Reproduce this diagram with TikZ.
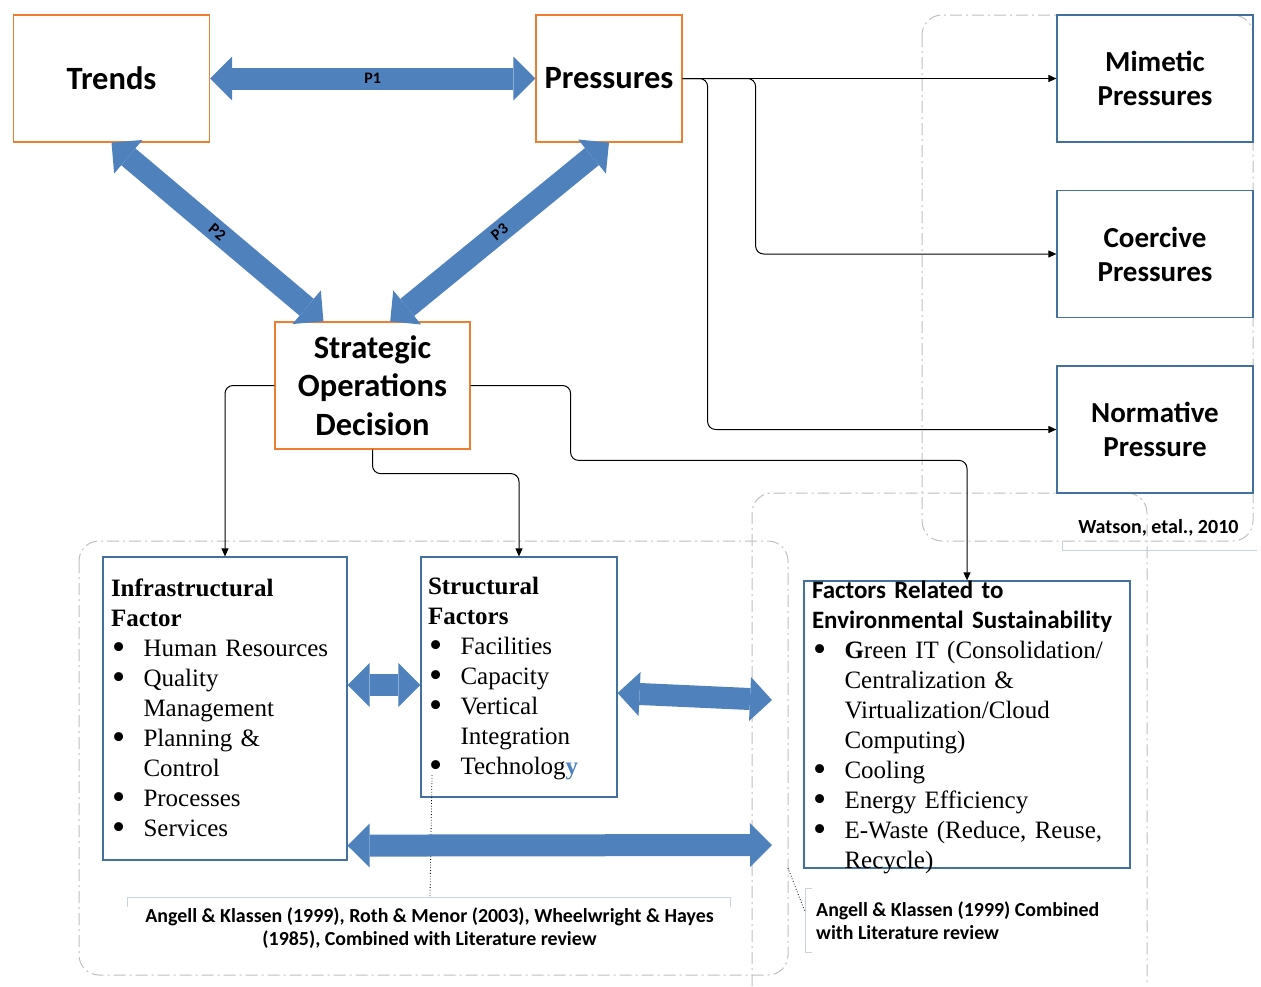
\documentclass[tikz,border=0pt]{standalone}
\usepackage{fontspec}
\setmainfont{Liberation Serif}
\newfontfamily\calibri{Carlito}
\usetikzlibrary{arrows.meta,calc}
\definecolor{orangeline}{HTML}{ED7D31}
\definecolor{blueline}{HTML}{41719C}
\definecolor{arrowblue}{HTML}{4F81BD}
\definecolor{shadowblue}{HTML}{D3E0F0}
\definecolor{groupgray}{HTML}{BFBFBF}
\definecolor{calloutgray}{HTML}{C9D3DF}
\newcommand\bul{\makebox[32.5pt][l]{\hspace{1pt}\smash{\raisebox{-3.5pt}{\scalebox{1.5}{\textbullet}}}}}
\newcommand\ind{\hspace*{32.5pt}}
\begin{document}
\begin{tikzpicture}[x=1pt,y=-1pt,
  obox/.style={draw=orangeline,line width=1.2pt,minimum width=196pt,minimum height=127pt,inner sep=0pt,align=center,font=\calibri\bfseries\fontsize{32.5}{38.5}\selectfont},
  bbox/.style={draw=blueline,line width=1.2pt,minimum width=196pt,minimum height=127pt,inner sep=0pt,align=center,font=\calibri\bfseries\fontsize{29}{34}\selectfont},
  lbox/.style={draw=blueline,line width=1.2pt,inner xsep=8pt,inner ysep=0pt,align=left,font=\fontsize{25}{30}\selectfont},
  fat/.style={arrowblue,line width=22pt,{Triangle[width=44pt,length=22pt,line width=0pt]}-{Triangle[width=44pt,length=22pt,line width=0pt]},
    preaction={shadowblue,transform canvas={shift={(1.5pt,-3pt)}}}},
  conn/.style={-{Triangle[length=8pt,width=7pt]},line width=1pt,rounded corners=8pt},
  group/.style={draw=groupgray,line width=1pt,dash pattern=on 12pt off 4pt on 2pt off 4pt,rounded corners=20pt},
  plab/.style={font=\calibri\bfseries\fontsize{16}{18}\selectfont,text=black},
  cite/.style={font=\calibri\bfseries\fontsize{19.9}{23}\selectfont,align=center}]

\useasboundingbox (0,0) rectangle (1261,986);

\draw[group] (922,15) rectangle (1253,541);
\draw[group] (79,541) rectangle (788,975);
\draw[group] (752,986) |- (1147,493) -- (1147,986);

\node[obox] (trends) at (111.5,78.5) {Trends};
\node[obox,minimum width=146pt] (press) at (609,78.5) {Pressures};
\node[obox,minimum width=195pt] (strat) at (372.5,385.5) {Strategic\\Operations\\Decision};

\node[bbox] (mim) at (1155,78.5) {Mimetic\\Pressures};
\node[bbox] (coer) at (1155,254) {Coercive\\Pressures};
\node[bbox] (norm) at (1155,429.5) {Normative\\Pressure};

\node[lbox,text width=228pt,text height=39pt,text depth=264pt] (infra) at (225,708.5)
  {\textbf{Infrastructural}\\\textbf{Factor}\\\bul Human Resources\\\bul Quality\\\ind Management\\\bul Planning \&\\\ind Control\\\bul Processes\\\bul Services};
\node[lbox,text width=182pt,inner xsep=7pt,text height=37pt,text depth=203pt] (struct) at (519,677)
  {\textbf{Structural}\\\textbf{Factors}\\\bul Facilities\\\bul Capacity\\\bul Vertical\\\ind Integration\\\bul Technolog{\color{arrowblue}\textbf{y}}};
\node[lbox,text width=310pt,text height=17pt,text depth=270pt] (fact) at (967,724.5)
  {{\calibri\bfseries Factors Related to}\\{\calibri\bfseries Environmental Sustainability}\\\bul \textbf{G}reen IT (Consolidation/\\\ind Centralization \&\\\ind Virtualization/Cloud\\\ind Computing)\\\bul Cooling\\\bul Energy Efficiency\\\bul E-Waste (Reduce, Reuse,\\\ind Recycle)};

\node[font=\calibri\bfseries\fontsize{20}{23}\selectfont,anchor=east] (watson) at (1242,528) {Watson, etal., 2010};
\draw[calloutgray,line width=1pt] (1062,541) |- (1257,550);

\node[cite] (citeA) at (429.5,928.5) {Angell \& Klassen (1999), Roth \& Menor (2003), Wheelwright \& Hayes\\(1985), Combined with Literature review};
\draw[calloutgray,line width=1pt] (127,907) |- (730,897) -- (730,907);
\coordinate (techpt) at (432,775);
\coordinate (citeAtop) at (430,896);
\draw[dotted,line width=0.8pt] (techpt) -- (citeAtop);

\node[cite,align=left,anchor=west,inner sep=4pt] (citeB) at (812,920.5) {Angell \& Klassen (1999) Combined\\with Literature review};
\draw[calloutgray,line width=1pt] (812,888) -| (805,952) -- (812,952);
\coordinate (groupedge) at (788,868);
\coordinate (citeBleft) at (805,912);
\draw[dotted,line width=0.8pt] (groupedge) -- (citeBleft);

\draw[fat] (trends.east) -- node[plab]{P1} (press.west);
\draw[fat] (trends.south) -- node[plab,sloped]{P2} ($(strat.north west)!0.25!(strat.north east)$);
\draw[fat] (press.south) -- node[plab,sloped]{P3} ($(strat.north west)!0.59!(strat.north east)$);

\coordinate (sfa) at (772,700);
\coordinate (lfa) at (772,845);
\draw[fat] ($(infra.east)+(0,-23.5)$) -- ($(struct.west)+(0,8)$);
\draw[fat] ($(struct.east)+(0,16)$) -- (sfa);
\draw[fat] ($(infra.south east)+(0,-15)$) -- (lfa);

\draw[conn] (press.east) -- (mim.west);
\draw[conn] (press.east) -- ++(73,0) |- (coer.west);
\draw[conn] (press.east) -- ++(25,0) |- (norm.west);
\draw[conn] (strat.west) -| (infra.north);
\draw[conn] (strat.south) -- ++(0,24) -| (struct.north);
\draw[conn] (strat.east) -- ++(100,0) |- ($(fact.north)+(0,-120)$) -- (fact.north);
\end{tikzpicture}
\end{document}
